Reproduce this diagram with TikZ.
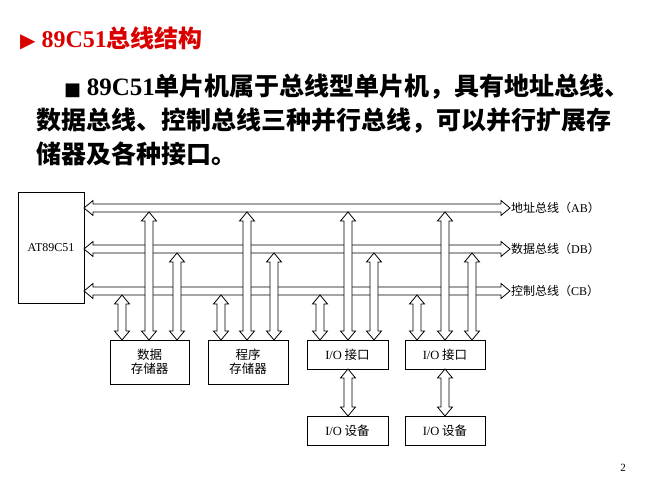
\documentclass[tikz,border=0pt]{standalone}
\usepackage{fontspec}
\setmainfont{Liberation Serif}
\newfontfamily\cjk{Noto Sans CJK SC}
\newfontfamily\sym{DejaVu Sans}
\usetikzlibrary{positioning, arrows.meta}

% hollow double-headed arrows: vertical (x, y1, y2) and horizontal (y, x1, x2)
\newcommand\varrow[3]{%
  \draw[fill=white, line width=0.8pt, line join=miter]
    (#1-4,#2+9) -- (#1-7.5,#2+9) -- (#1,#2) -- (#1+7.5,#2+9) -- (#1+4,#2+9)
    -- (#1+4,#3-9) -- (#1+7.5,#3-9) -- (#1,#3) -- (#1-7.5,#3-9) -- (#1-4,#3-9) -- cycle;}
\newcommand\harrow[3]{%
  \draw[fill=white, line width=0.8pt, line join=miter]
    (#2+9,#1-4) -- (#2+9,#1-7.5) -- (#2,#1) -- (#2+9,#1+7.5) -- (#2+9,#1+4)
    -- (#3-9,#1+4) -- (#3-9,#1+7.5) -- (#3,#1) -- (#3-9,#1-7.5) -- (#3-9,#1-4) -- cycle;}

\begin{document}
\begin{tikzpicture}[
    x=1pt, y=-1pt,
    box/.style={
        rectangle,
        draw,
        line width=0.8pt,
        inner sep=0pt,
        align=center,
        font=\cjk\fontsize{12.5}{14}\selectfont
    },
    buslabel/.style={anchor=west, inner sep=1pt, font=\cjk\fontsize{12}{14}\selectfont},
    line/.style={anchor=base west, inner sep=0pt, font=\cjk\bfseries\fontsize{25}{30}\selectfont}
]
\useasboundingbox (0,0) rectangle (667,500);

% Title and text
\node[anchor=base west, inner sep=0pt, text=red!85!black,
      font=\bfseries\fontsize{24}{28}\selectfont] (title) at (20,48)
      {{\sym\fontsize{20}{24}\selectfont ▶} 89C51{\cjk 总线结构}};
\node[line] (l1) at (64,96) {{\sym\fontsize{18}{20}\selectfont ■} {\rmfamily\bfseries 89C51}单片机属于总线型单片机，具有地址总线、};
\node[line] (l2) at (36,130) {数据总线、控制总线三种并行总线，可以并行扩展存};
\node[line] (l3) at (36,164) {储器及各种接口。};

% CPU
\node[box, font=\fontsize{12}{14}\selectfont, minimum width=66pt, minimum height=111pt] (cpu) at (51,247.5) {AT89C51};

% Buses
\harrow{208}{84}{510}
\harrow{249}{84}{510}
\harrow{291}{84}{510}
\node[buslabel] (abl) at (510,208) {地址总线（{\rmfamily AB}）};
\node[buslabel] (dbl) at (510,249) {数据总线（{\rmfamily DB}）};
\node[buslabel] (cbl) at (510,291) {控制总线（{\rmfamily CB}）};

% Modules
\node[box, minimum width=79pt, minimum height=44pt] (dmem) at (149.5,362) {数据\\存储器};
\node[box, minimum width=80pt, minimum height=44pt] (pmem) at (248,362) {程序\\存储器};
\node[box, minimum width=81pt, minimum height=29pt] (io1) at (347.5,354.5) {{\rmfamily I/O} 接口};
\node[box, minimum width=80pt, minimum height=29pt] (io2) at (445,354.5) {{\rmfamily I/O} 接口};
\node[box, minimum width=81pt, minimum height=29pt] (dev1) at (347.5,431) {{\rmfamily I/O} 设备};
\node[box, minimum width=80pt, minimum height=29pt] (dev2) at (445,431) {{\rmfamily I/O} 设备};

% Taps from buses to modules
\foreach \xc/\xa/\xd in {122/149/177, 221/247/274, 320/348/374, 417/445/472} {
    \varrow{\xc}{295}{340}
    \varrow{\xa}{212}{340}
    \varrow{\xd}{253}{340}
}

% Interfaces to devices
\varrow{348}{369}{416}
\varrow{445}{369}{416}

% Page number
\node[font=\fontsize{11}{13}\selectfont] (page) at (623,468) {2};
\end{tikzpicture}
\end{document}
